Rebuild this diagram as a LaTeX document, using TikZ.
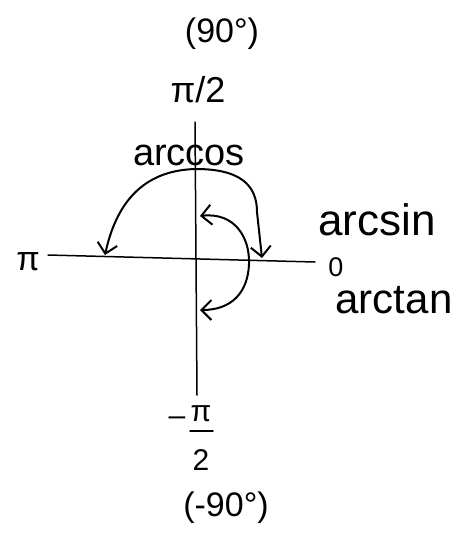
\documentclass[tikz,border=0pt]{standalone}
\usepackage{fontspec}
\setmainfont{Liberation Sans}
\usetikzlibrary{arrows.meta}
\tikzset{
  axis/.style={line width=1.5pt, line cap=round},
  curve/.style={line width=2pt, line cap=round,
    {Straight Barb[length=10pt,width=20pt,line width=2pt]}-{Straight Barb[length=10pt,width=20pt,line width=2pt]}},
  lbl/.style={inner sep=0pt, anchor=center}
}
\newcommand{\fs}[1]{\fontsize{#1}{#1}\selectfont}
\begin{document}
\begin{tikzpicture}[x=1pt,y=-1pt]
\useasboundingbox (0,0) rectangle (476,542);
% labels
\node[lbl, font=\fs{34}] (deg90) at (222,34) {(90°)};
\node[lbl, font=\fs{36}] (pihalf) at (198,90) {π/2};
\node[lbl, font=\fs{34}] (pileft) at (28,262) {π};
\node[lbl, font=\fs{27}] (zero) at (336,267) {0};
\node[lbl, font=\fs{38}] (arccos) at (189,155) {arccos};
\node[lbl, font=\fs{44}] (arcsin) at (377,220) {arcsin};
\node[lbl, font=\fs{42}] (arctan) at (394,300) {arctan};
% -pi/2 fraction
\node[lbl, font=\fs{30}] (mpinum) at (201,414) {π};
\node[lbl, font=\fs{30}] (mpiminus) at (177,421) {–};
\node[lbl, font=\fs{30}] (mpiden) at (201,460) {2};
\coordinate (barL) at (190,431);
\coordinate (barR) at (213,431);
\draw[axis] (barL) -- (barR);
\node[lbl, font=\fs{34}] (degm90) at (226,508) {(-90°)};
% axes
\coordinate (xl) at (48,255);
\coordinate (xr) at (315,262);
\coordinate (yt) at (195,122);
\coordinate (yb) at (197,395);
\draw[axis] (xl) -- (xr);
\draw[axis] (yt) -- (yb);
% arccos arc
\coordinate (acL) at (105,255);
\coordinate (acR) at (262,258);
\draw[curve] (acL) .. controls (118,195) and (150,170) .. (196,169)
  .. controls (240,169) and (257,185) .. (257,212) -- (acR);
% arcsin / arctan arc
\coordinate (asT) at (200,216);
\coordinate (asB) at (200,310);
\draw[curve] (asT) .. controls (235,212) and (250,238) .. (249,264)
  .. controls (248,292) and (232,310) .. (asB);
\end{tikzpicture}
\end{document}
